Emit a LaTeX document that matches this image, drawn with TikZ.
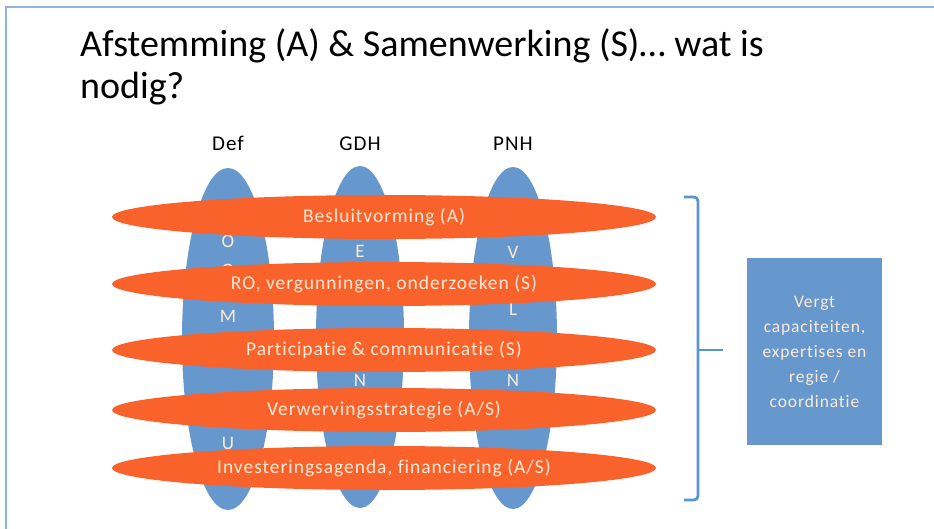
\documentclass[tikz,border=0pt]{standalone}
\usepackage{fontspec}
\setmainfont{Carlito}
\newfontfamily\spacedfont[LetterSpace=5, Ligatures=NoCommon]{Carlito}
\usetikzlibrary{shapes.geometric, positioning}
\definecolor{colblue}{RGB}{102,152,206}
\definecolor{bandorange}{RGB}{250,98,44}
\definecolor{bandtext}{RGB}{253,234,214}
\definecolor{frameblue}{RGB}{140,180,226}
\definecolor{braceblue}{RGB}{88,150,210}
\newcommand{\band}[3]{%
  \node[band] (#1) at (384,#2) {#3};
}

\begin{document}
\begin{tikzpicture}[x=1pt, y=-1pt,
    column/.style={ellipse, fill=colblue, draw=none, minimum width=92pt, minimum height=342pt, inner sep=0pt},
    letter/.style={text=bandtext, font=\spacedfont\fontsize{19}{20}\selectfont, inner sep=0pt},
    band/.style={ellipse, fill=bandorange, draw=none, minimum width=544pt, minimum height=44pt, inner sep=0pt,
                 text=bandtext, font=\spacedfont\fontsize{19.5}{22}\selectfont},
    header/.style={font=\spacedfont\fontsize{21}{24}\selectfont, anchor=base, inner sep=0pt}]
            \useasboundingbox (0,0) rectangle (934,529);

            % slide frame
            \draw[frameblue, line width=1.2pt] (6,529) -- (6,7) -- (934,7);

            \node[anchor=base west, font=\fontsize{38}{44}\selectfont, inner sep=0pt] (title1) at (80,57) {Afstemming (A) \& Samenwerking (S)… wat is};
            \node[anchor=base west, font=\fontsize{38}{44}\selectfont, inner sep=0pt] (title2) at (80,99) {nodig?};

            % the three parties
            \node[column] (def) at (228,339) {};
            \node[column, minimum width=88pt] (gdh) at (360,337) {};
            \node[column, minimum width=88pt] (pnh) at (513,338) {};

            \node[header] (defl) at (228,151) {Def};
            \node[header] (gdhl) at (360,151) {GDH};
            \node[header] (pnhl) at (513,151) {PNH};

            \node[letter] (d1) at (228,241) {O};
            \node[letter] (d2) at (228,270) {O};
            \node[letter] (d3) at (228,316) {M};
            \node[letter] (d4) at (228,443) {U};
            \node[letter] (g1) at (360,251) {E};
            \node[letter] (g2) at (360,380) {N};
            \node[letter] (p1) at (513,252) {V};
            \node[letter] (p2) at (513,309) {L};
            \node[letter] (p3) at (513,380) {N};

            % themes
            \band{b1}{217}{Besluitvorming (A)}
            \band{b2}{284}{RO, vergunningen, onderzoeken (S)}
            \band{b3}{350}{Participatie \& communicatie (S)}
            \band{b4}{410}{Verwervingsstrategie (A/S)}
            \band{b5}{468}{Investeringsagenda, financiering (A/S)}

            % brace
            \coordinate (bt) at (684,197);
            \coordinate (bb) at (684,500);
            \coordinate (bm) at (698,350);
            \coordinate (tip) at (723,350);
            \draw[braceblue, line width=2.8pt, rounded corners=4pt] (bt) -| (bm) |- (bb);
            \draw[braceblue, line width=2.8pt] (bm) -- (tip);

            \node[fill=colblue, minimum width=135pt, minimum height=187pt, inner sep=0pt, align=center,
                  text=bandtext, font=\spacedfont\fontsize{17.5}{25}\selectfont] (need) at (814.5,351.5)
                  {Vergt\\capaciteiten,\\expertises en\\regie /\\coordinatie};
\end{tikzpicture}
\end{document}
